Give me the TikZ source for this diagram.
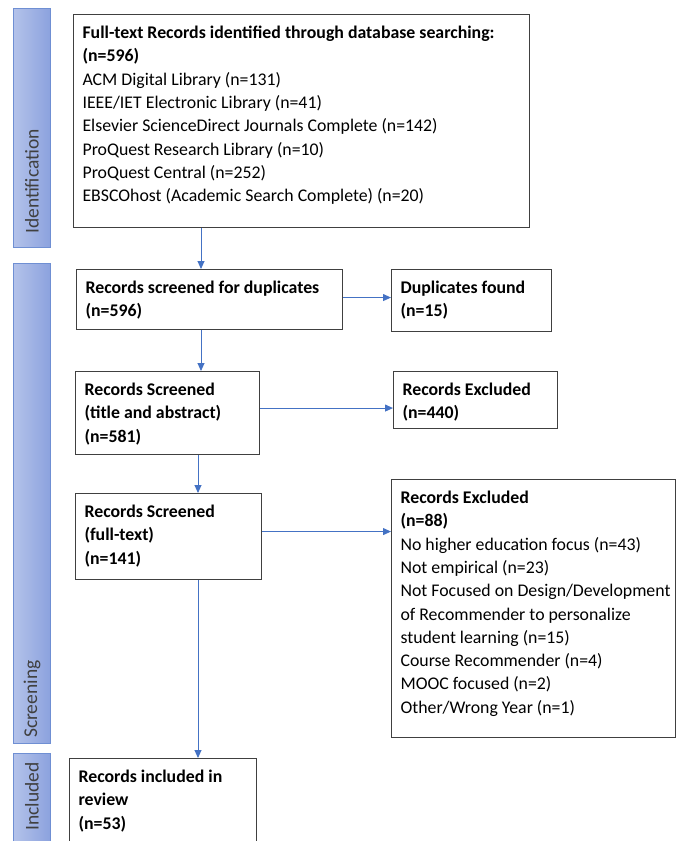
\documentclass[tikz,border=0pt]{standalone}
\usepackage{fontspec}
\setmainfont{Carlito}
\usetikzlibrary{arrows.meta,positioning}

\definecolor{flowblue}{HTML}{4472C4}
\definecolor{barlight}{HTML}{B4C3EA}
\definecolor{bardark}{HTML}{8CA2DE}
\definecolor{baredge}{HTML}{6F8FD3}
\definecolor{bartext}{HTML}{404040}

% box body: width, height, text (top left, first baseline 24pt down)
\newcommand{\recbody}[3]{\parbox[c][#2][t]{#1}{\raggedright\leftskip=9pt\rule{0pt}{24pt}#3}}

\tikzset{
  recbox/.style={draw=black!75, line width=1.1pt, inner sep=0pt, anchor=north west,
    font=\fontsize{17.8}{23.3}\selectfont},
  phasebar/.style={draw=baredge, line width=1pt, left color=barlight, right color=bardark,
    minimum width=37pt, inner sep=0pt},
  phaselabel/.style={rotate=90, anchor=west, text=bartext, inner sep=0pt,
    font=\fontsize{19.5}{23}\selectfont},
  flow/.style={draw=flowblue, line width=0.9pt, -{Triangle[length=8pt,width=7pt]}},
}

\begin{document}
\begin{tikzpicture}[x=1pt,y=-1pt]
  \useasboundingbox (0,0) rectangle (676,841);

  % phase bars
  \node[phasebar, minimum height=239pt] (idbar) at (31.5,127.5) {};
  \node[phasebar, minimum height=480pt] (scrbar) at (31.5,503) {};
  \node[phasebar, minimum height=107pt] (incbar) at (31.5,806.5) {};
  \node[phaselabel] (idlab) at (32,234) {Identification};
  \node[phaselabel] (scrlab) at (32,738) {Screening};
  \node[phaselabel] (inclab) at (32,831) {Included};

  % record boxes
  \node[recbox] (ident) at (73,14) {\recbody{456pt}{213pt}{%
    \textbf{Full-text Records identified through database searching:}\\
    \textbf{(n=596)}\\
    ACM Digital Library (n=131)\\
    IEEE/IET Electronic Library (n=41)\\
    Elsevier ScienceDirect Journals Complete (n=142)\\
    ProQuest Research Library (n=10)\\
    ProQuest Central (n=252)\\
    EBSCOhost (Academic Search Complete) (n=20)}};
  \node[recbox] (dupscreen) at (76,269) {\recbody{266pt}{60pt}{%
    \textbf{Records screened for duplicates}\\ \textbf{(n=596)}}};
  \node[recbox] (dupfound) at (391,269) {\recbody{160pt}{62pt}{%
    \textbf{Duplicates found}\\ \textbf{(n=15)}}};
  \node[recbox] (title) at (75,371) {\recbody{184pt}{83pt}{%
    \textbf{Records Screened}\\ \textbf{(title and abstract)}\\ \textbf{(n=581)}}};
  \node[recbox] (exclA) at (393,371) {\recbody{164pt}{57pt}{%
    \textbf{Records Excluded}\\ \textbf{(n=440)}}};
  \node[recbox] (fulltext) at (75,493) {\recbody{186pt}{86pt}{%
    \textbf{Records Screened}\\ \textbf{(full-text)}\\ \textbf{(n=141)}}};
  \node[recbox] (exclB) at (391,479) {\recbody{284pt}{258pt}{%
    \textbf{Records Excluded}\\
    \textbf{(n=88)}\\
    No higher education focus (n=43)\\
    Not empirical (n=23)\\
    Not Focused on Design/Development\\
    of Recommender to personalize\\
    student learning (n=15)\\
    Course Recommender (n=4)\\
    MOOC focused (n=2)\\
    Other/Wrong Year (n=1)}};
  \node[recbox] (incl) at (69,758) {\recbody{187pt}{100pt}{%
    \textbf{Records included in}\\ \textbf{review}\\ \textbf{(n=53)}}};

  % connectors
  \coordinate (spine) at (201,0);
  \coordinate (spineB) at (198,0);
  \draw[flow] (spine |- ident.south) -- (spine |- dupscreen.north);
  \draw[flow] (spine |- dupscreen.south) -- (spine |- title.north);
  \draw[flow] (spineB |- title.south) -- (spineB |- fulltext.north);
  \draw[flow] (spineB |- fulltext.south) -- (spineB |- incl.north);

  \coordinate (hA) at ([yshift=2pt]dupscreen.east);
  \coordinate (hB) at ([yshift=5pt]title.east);
  \coordinate (hC) at ([yshift=5pt]fulltext.east);
  \draw[flow] (hA) -- (hA -| dupfound.west);
  \draw[flow] (hB) -- (hB -| exclA.west);
  \draw[flow] (hC) -- (hC -| exclB.west);
\end{tikzpicture}
\end{document}
